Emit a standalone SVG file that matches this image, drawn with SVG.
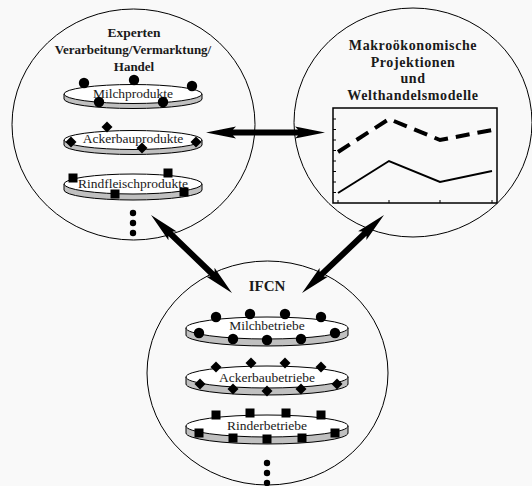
<svg xmlns="http://www.w3.org/2000/svg" xmlns:xlink="http://www.w3.org/1999/xlink" width="532" height="486" viewBox="0 0 532 486">
<style>
.big{fill:none;stroke:#000;stroke-width:1}
.band{fill:#c0c0c0;stroke:#000;stroke-width:1}
.top{fill:#fff;stroke:#000;stroke-width:1}
.t{font-family:"Liberation Serif","Times New Roman",serif;text-anchor:middle;fill:#1a1a1a}
.b{font-weight:bold}
.lab{font-size:13.5px}
.arr{fill:#000;stroke:none}
</style>
<defs>
<circle id="dot" r="5.2" fill="#000"/>
<path id="dia" d="M0,-5.5 L5.5,0 L0,5.5 L-5.5,0Z" fill="#000"/>
<rect id="sq" x="-4.5" y="-4.5" width="9" height="9" fill="#000"/>
<circle id="pt" r="3.2" fill="#000"/>
</defs>
<rect width="532" height="486" fill="#f9f9f9"/>

<g id="node-experten">
<ellipse class="big" cx="133.5" cy="124.5" rx="121.5" ry="115.5"/>
<text class="t b" x="134" y="37" font-size="13.5">Experten</text>
<text class="t b" x="133" y="54" font-size="13">Verarbeitung/Vermarktung/</text>
<text class="t b" x="134" y="71" font-size="13">Handel</text>
<g id="disc-milchprodukte">
<path class="band" d="M64,94 v5 A69,9.5 0 0 0 202,99 v-5Z"/>
<ellipse class="top" cx="133" cy="94" rx="69" ry="9.5"/>
<text class="t lab" x="133" y="97.5">Milchprodukte</text>
<use href="#dot" x="84" y="83"/><use href="#dot" x="134" y="80"/><use href="#dot" x="192" y="86"/>
<use href="#dot" x="99" y="102"/><use href="#dot" x="163" y="102"/>
</g>
<g id="disc-ackerbauprodukte">
<path class="band" d="M64,140 v5 A69,9.5 0 0 0 202,145 v-5Z"/>
<ellipse class="top" cx="133" cy="140" rx="69" ry="9.5"/>
<text class="t lab" x="133" y="143">Ackerbauprodukte</text>
<use href="#dia" x="107" y="127"/><use href="#dia" x="71" y="142"/><use href="#dia" x="142" y="148"/><use href="#dia" x="196" y="142"/>
</g>
<g id="disc-rindfleischprodukte">
<path class="band" d="M64,184 v6 A69,10 0 0 0 202,190 v-6Z"/>
<ellipse class="top" cx="133" cy="184" rx="69" ry="10"/>
<text class="t lab" x="133" y="188">Rindfleischprodukte</text>
<use href="#sq" x="73" y="178"/><use href="#sq" x="168" y="173"/><use href="#sq" x="115" y="194"/><use href="#sq" x="184" y="192"/>
</g>
<use href="#pt" x="133" y="213"/><use href="#pt" x="133" y="223"/><use href="#pt" x="133" y="233"/>
</g>

<g id="node-makro">
<ellipse class="big" cx="413" cy="122.5" rx="119" ry="114.5"/>
<text class="t b" x="413" y="50" font-size="14" letter-spacing="0.6">Makroökonomische</text>
<text class="t b" x="413" y="67" font-size="14" letter-spacing="0.6">Projektionen</text>
<text class="t b" x="413" y="83" font-size="14" letter-spacing="0.6">und</text>
<text class="t b" x="413" y="100" font-size="14" letter-spacing="0.6">Welthandelsmodelle</text>
<g id="chart">
<rect x="333" y="108" width="164" height="95" fill="none" stroke="#000" stroke-width="1.5"/>
<path d="M333,119h3M333,129.5h3M333,140h3M333,150.5h3M333,161h3M333,171.5h3M333,182h3M333,192.5h3M338,203v-3M389,203v-3M440,203v-3M492,203v-3" stroke="#000" stroke-width="1" fill="none"/>
<polyline points="338,193 389,161 440,182 492,171" fill="none" stroke="#000" stroke-width="2"/>
<polyline points="338,152 389,119 440,140 492,130" fill="none" stroke="#fff" stroke-width="1.5"/>
<polyline points="338,152 389,119 440,140 492,130" fill="none" stroke="#000" stroke-width="4" stroke-dasharray="14 8"/>
</g>
</g>

<g id="node-ifcn">
<ellipse class="big" cx="267.5" cy="373" rx="120.5" ry="112"/>
<text class="t b" x="267" y="291" font-size="15">IFCN</text>
<g id="disc-milchbetriebe">
<path class="band" d="M186,328 v7 A81,11 0 0 0 348,335 v-7Z"/>
<ellipse class="top" cx="267" cy="328" rx="81" ry="11"/>
<text class="t lab" x="267" y="330">Milchbetriebe</text>
<use href="#dot" x="216" y="317"/><use href="#dot" x="250" y="314"/><use href="#dot" x="285" y="314"/><use href="#dot" x="321" y="317"/>
<use href="#dot" x="199" y="333"/><use href="#dot" x="233" y="339"/><use href="#dot" x="267" y="340"/><use href="#dot" x="301" y="339"/><use href="#dot" x="335" y="333"/>
</g>
<g id="disc-ackerbaubetriebe">
<path class="band" d="M186,377 v7 A81,11 0 0 0 348,384 v-7Z"/>
<ellipse class="top" cx="267" cy="377" rx="81" ry="11"/>
<text class="t lab" x="267" y="381.5">Ackerbaubetriebe</text>
<use href="#dia" x="216" y="367"/><use href="#dia" x="251" y="363"/><use href="#dia" x="285" y="363"/><use href="#dia" x="321" y="367"/>
<use href="#dia" x="200" y="384"/><use href="#dia" x="233" y="389"/><use href="#dia" x="267" y="391"/><use href="#dia" x="301" y="389"/><use href="#dia" x="337" y="384"/>
</g>
<g id="disc-rinderbetriebe">
<path class="band" d="M186,426 v7 A81,11 0 0 0 348,433 v-7Z"/>
<ellipse class="top" cx="267" cy="426" rx="81" ry="11"/>
<text class="t lab" x="267" y="429.5">Rinderbetriebe</text>
<use href="#sq" x="216" y="415"/><use href="#sq" x="250" y="413"/><use href="#sq" x="286" y="413"/><use href="#sq" x="321" y="415"/>
<use href="#sq" x="199" y="433"/><use href="#sq" x="233" y="438"/><use href="#sq" x="267" y="439"/><use href="#sq" x="302" y="438"/><use href="#sq" x="335" y="433"/>
</g>
<use href="#pt" x="267" y="463"/><use href="#pt" x="267" y="473"/><use href="#pt" x="267" y="483"/>
</g>

<g id="connectors">
<polygon class="arr" transform="translate(206,132.5)" points="0,0 30,-6 27,-3 92,-3 89,-6 119,0 89,6 92,3 27,3 30,6"/>
<polygon class="arr" transform="translate(151,215) rotate(43.9)" points="0,0 30,-6 27,-3 85.4,-3 82.4,-6 112.4,0 82.4,6 85.4,3 27,3 30,6"/>
<polygon class="arr" transform="translate(384,215) rotate(136.4)" points="0,0 30,-6 27,-3 86.2,-3 83.2,-6 113.2,0 83.2,6 86.2,3 27,3 30,6"/>
</g>
</svg>
